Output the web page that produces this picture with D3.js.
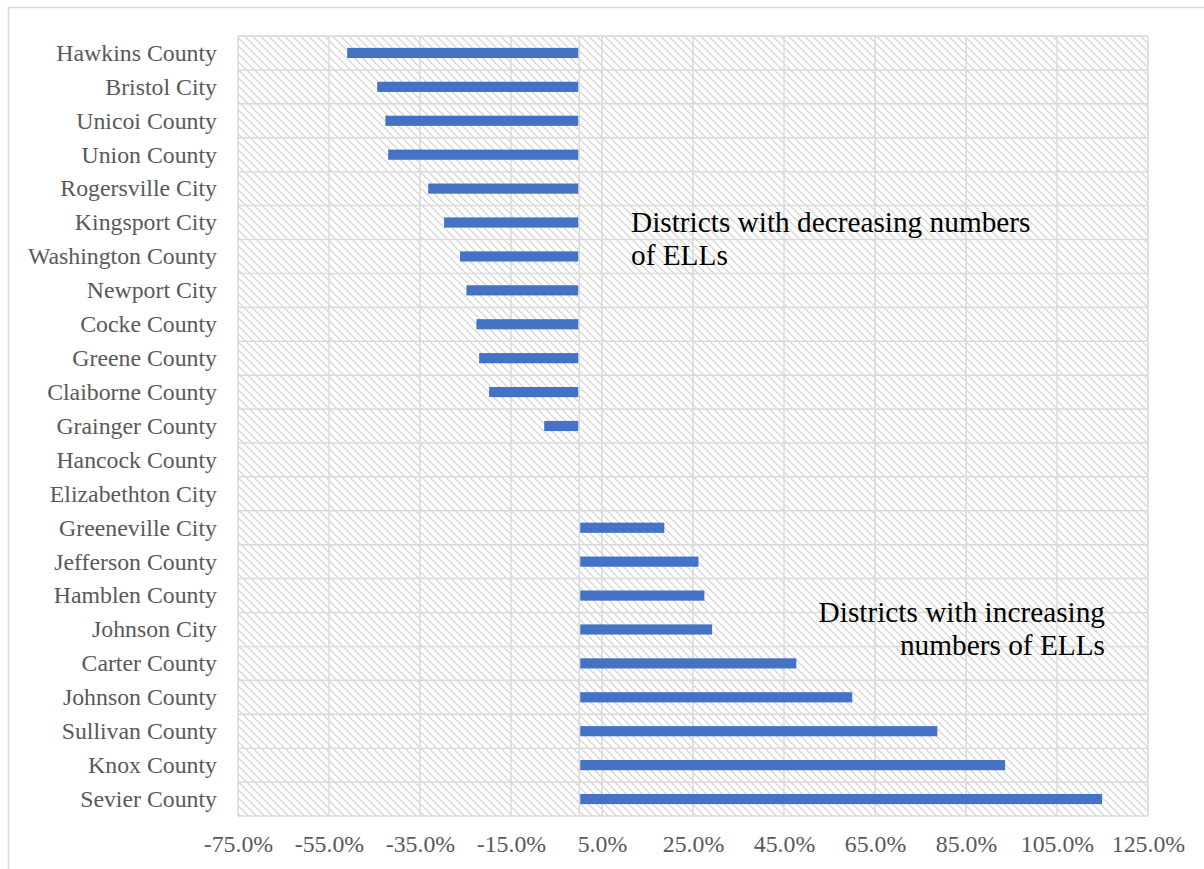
<!DOCTYPE html>
<html><head><meta charset="utf-8">
<script src="https://cdn.jsdelivr.net/npm/d3@7"></script>
<style>html,body{margin:0;padding:0;background:#fff;}svg{display:block;}</style>
</head><body>
<svg id="chart" width="1204" height="869"></svg>
<script>
const categories = ["Hawkins County","Bristol City","Unicoi County","Union County","Rogersville City","Kingsport City","Washington County","Newport City","Cocke County","Greene County","Claiborne County","Grainger County","Hancock County","Elizabethton City","Greeneville City","Jefferson County","Hamblen County","Johnson City","Carter County","Johnson County","Sullivan County","Knox County","Sevier County"];
const values = [-51.0,-44.4,-42.6,-42.0,-33.2,-29.7,-26.2,-24.8,-22.6,-22.0,-19.8,-7.7,0,0,18.7,26.2,27.5,29.2,47.7,60.0,78.7,93.6,114.9];
const tickValues = [-75,-55,-35,-15,5,25,45,65,85,105,125];
const annotationDecreasing = ["Districts with decreasing numbers","of ELLs"];
const annotationIncreasing = ["Districts with increasing","numbers of ELLs"];

(function(){
const svg = d3.select("#chart");
const pLeft = 238, pRight = 1148, pTop = 36, pBottom = 816;
const grid = "#d9d9d9";
const font = "'Liberation Serif', 'Times New Roman', serif";

svg.append("rect").attr("x",8.5).attr("y",7.5).attr("width",1250).attr("height",900)
  .attr("fill","#fff").attr("stroke",grid).attr("stroke-width",1.5);

const defs = svg.append("defs");
const pat = defs.append("pattern").attr("id","hatch").attr("patternUnits","userSpaceOnUse")
  .attr("width",8).attr("height",8);
pat.append("rect").attr("width",8).attr("height",8).attr("fill","#fff");
for (let r = 0; r < 8; r++) {
  for (let k = 0; k < 2; k++) {
    pat.append("rect").attr("x",(r+k)%8).attr("y",r).attr("width",1).attr("height",1).attr("fill","#dadada");
  }
}

const x = d3.scaleLinear().domain([-75,125]).range([pLeft,pRight]);
const y = d3.scaleBand().domain(categories).range([pTop,pBottom]).paddingInner(0.7).paddingOuter(0.35);
const step = y.step();

svg.append("rect").attr("x",pLeft).attr("y",pTop).attr("width",pRight-pLeft).attr("height",pBottom-pTop)
  .attr("fill","url(#hatch)");

const rowEdges = d3.range(categories.length+1).map(i => pTop + i*step);
svg.append("g").selectAll("line").data(rowEdges).join("line")
  .attr("x1",pLeft).attr("x2",pRight).attr("y1",d=>d).attr("y2",d=>d)
  .attr("stroke",grid).attr("stroke-width",1.5);

svg.append("g").selectAll("line").data(tickValues).join("line")
  .attr("x1",d=>x(d)).attr("x2",d=>x(d)).attr("y1",pTop).attr("y2",pBottom)
  .attr("stroke",grid).attr("stroke-width",1.5);
svg.append("line").attr("x1",x(0)).attr("x2",x(0)).attr("y1",pTop).attr("y2",pBottom)
  .attr("stroke",grid).attr("stroke-width",1.5);

svg.append("g").selectAll("rect").data(categories).join("rect")
  .attr("x",(d,i)=>values[i] < 0 ? x(values[i]) : x(0)+1)
  .attr("width",(d,i)=>values[i] < 0 ? x(0)-1-x(values[i]) : Math.max(0,x(values[i])-x(0)-1))
  .attr("y",d=>y(d)).attr("height",y.bandwidth())
  .attr("fill","#4472c4");

svg.append("g").selectAll("text").data(categories).join("text")
  .attr("x",217).attr("y",d=>y(d)+y.bandwidth()/2).attr("dy","0.33em")
  .attr("text-anchor","end").attr("fill","#595959")
  .attr("font-family",font).attr("font-size",23.8)
  .text(d=>d);

const xAxis = d3.axisBottom(x).tickValues(tickValues).tickSize(0).tickPadding(0)
  .tickFormat(d => d.toFixed(1) + "%");
const gx = svg.append("g").attr("transform",`translate(0,${pBottom+19})`).call(xAxis);
gx.select(".domain").remove();
gx.selectAll("text").attr("fill","#595959")
  .attr("font-family",font).attr("font-size",23.8);

const ann1 = svg.append("text").attr("font-family",font)
  .attr("font-size",29.3).attr("fill","#000");
annotationDecreasing.forEach((t,i)=>ann1.append("tspan").attr("x",631).attr("y",232+i*33).text(t));
const ann2 = svg.append("text").attr("font-family",font)
  .attr("font-size",29.3).attr("fill","#000").attr("text-anchor","end");
annotationIncreasing.forEach((t,i)=>ann2.append("tspan").attr("x",1105).attr("y",622+i*33).text(t));
})();
</script>
</body></html>
